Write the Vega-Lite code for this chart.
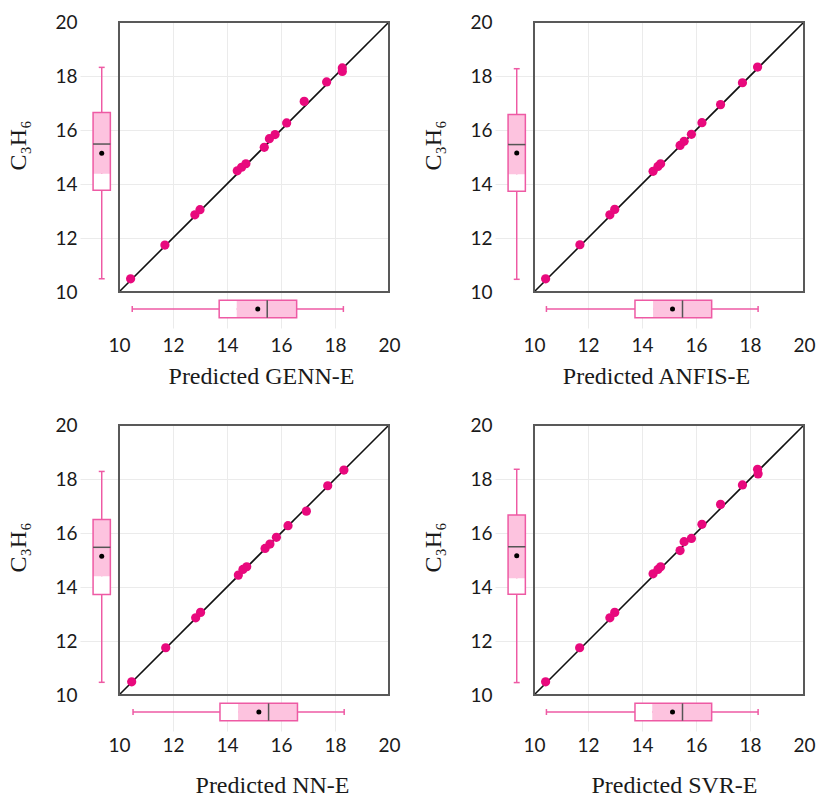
{
  "$schema": "https://vega.github.io/schema/vega-lite/v6.json",
  "background": "white",
  "padding": {"left": 6, "top": 13, "right": 0, "bottom": 0},
  "columns": 2,
  "spacing": {"row": 28, "column": 20},
  "datasets": {
    "points": [
      {"model": "GENN-E", "predicted": 10.43, "actual": 10.49},
      {"model": "GENN-E", "predicted": 11.70, "actual": 11.74},
      {"model": "GENN-E", "predicted": 12.81, "actual": 12.86},
      {"model": "GENN-E", "predicted": 13.00, "actual": 13.05},
      {"model": "GENN-E", "predicted": 14.38, "actual": 14.49},
      {"model": "GENN-E", "predicted": 14.54, "actual": 14.62},
      {"model": "GENN-E", "predicted": 14.70, "actual": 14.75},
      {"model": "GENN-E", "predicted": 15.38, "actual": 15.36},
      {"model": "GENN-E", "predicted": 15.57, "actual": 15.68},
      {"model": "GENN-E", "predicted": 15.78, "actual": 15.83},
      {"model": "GENN-E", "predicted": 16.21, "actual": 16.26},
      {"model": "GENN-E", "predicted": 16.86, "actual": 17.06},
      {"model": "GENN-E", "predicted": 17.69, "actual": 17.78},
      {"model": "GENN-E", "predicted": 18.27, "actual": 18.30},
      {"model": "GENN-E", "predicted": 18.27, "actual": 18.17},
      {"model": "ANFIS-E", "predicted": 10.43, "actual": 10.49},
      {"model": "ANFIS-E", "predicted": 11.70, "actual": 11.75},
      {"model": "ANFIS-E", "predicted": 12.81, "actual": 12.86},
      {"model": "ANFIS-E", "predicted": 12.99, "actual": 13.06},
      {"model": "ANFIS-E", "predicted": 14.41, "actual": 14.47},
      {"model": "ANFIS-E", "predicted": 14.59, "actual": 14.65},
      {"model": "ANFIS-E", "predicted": 14.69, "actual": 14.75},
      {"model": "ANFIS-E", "predicted": 15.41, "actual": 15.43},
      {"model": "ANFIS-E", "predicted": 15.56, "actual": 15.58},
      {"model": "ANFIS-E", "predicted": 15.83, "actual": 15.84},
      {"model": "ANFIS-E", "predicted": 16.22, "actual": 16.27},
      {"model": "ANFIS-E", "predicted": 16.91, "actual": 16.94},
      {"model": "ANFIS-E", "predicted": 17.72, "actual": 17.75},
      {"model": "ANFIS-E", "predicted": 18.28, "actual": 18.33},
      {"model": "NN-E", "predicted": 10.47, "actual": 10.49},
      {"model": "NN-E", "predicted": 11.73, "actual": 11.75},
      {"model": "NN-E", "predicted": 12.84, "actual": 12.86},
      {"model": "NN-E", "predicted": 13.02, "actual": 13.06},
      {"model": "NN-E", "predicted": 14.42, "actual": 14.44},
      {"model": "NN-E", "predicted": 14.59, "actual": 14.65},
      {"model": "NN-E", "predicted": 14.73, "actual": 14.75},
      {"model": "NN-E", "predicted": 15.41, "actual": 15.43},
      {"model": "NN-E", "predicted": 15.59, "actual": 15.59},
      {"model": "NN-E", "predicted": 15.83, "actual": 15.84},
      {"model": "NN-E", "predicted": 16.26, "actual": 16.27},
      {"model": "NN-E", "predicted": 16.94, "actual": 16.81},
      {"model": "NN-E", "predicted": 17.73, "actual": 17.75},
      {"model": "NN-E", "predicted": 18.33, "actual": 18.33},
      {"model": "SVR-E", "predicted": 10.43, "actual": 10.49},
      {"model": "SVR-E", "predicted": 11.69, "actual": 11.75},
      {"model": "SVR-E", "predicted": 12.81, "actual": 12.86},
      {"model": "SVR-E", "predicted": 12.99, "actual": 13.06},
      {"model": "SVR-E", "predicted": 14.41, "actual": 14.49},
      {"model": "SVR-E", "predicted": 14.59, "actual": 14.65},
      {"model": "SVR-E", "predicted": 14.69, "actual": 14.75},
      {"model": "SVR-E", "predicted": 15.41, "actual": 15.35},
      {"model": "SVR-E", "predicted": 15.56, "actual": 15.68},
      {"model": "SVR-E", "predicted": 15.83, "actual": 15.80},
      {"model": "SVR-E", "predicted": 16.22, "actual": 16.32},
      {"model": "SVR-E", "predicted": 16.91, "actual": 17.06},
      {"model": "SVR-E", "predicted": 17.72, "actual": 17.78},
      {"model": "SVR-E", "predicted": 18.28, "actual": 18.36},
      {"model": "SVR-E", "predicted": 18.30, "actual": 18.19}
    ],
    "boxes": [
      {"model": "GENN-E", "axis": "x", "lo": 10.49, "q1": 13.71, "split": 14.36, "med": 15.49, "q3": 16.58, "hi": 18.31, "mean": 15.14},
      {"model": "GENN-E", "axis": "y", "lo": 10.49, "q1": 13.77, "split": 14.38, "med": 15.48, "q3": 16.65, "hi": 18.32, "mean": 15.14},
      {"model": "ANFIS-E", "axis": "x", "lo": 10.46, "q1": 13.74, "split": 14.41, "med": 15.50, "q3": 16.58, "hi": 18.30, "mean": 15.13},
      {"model": "ANFIS-E", "axis": "y", "lo": 10.47, "q1": 13.73, "split": 14.36, "med": 15.46, "q3": 16.57, "hi": 18.27, "mean": 15.15},
      {"model": "NN-E", "axis": "x", "lo": 10.52, "q1": 13.74, "split": 14.41, "med": 15.54, "q3": 16.61, "hi": 18.34, "mean": 15.18},
      {"model": "NN-E", "axis": "y", "lo": 10.47, "q1": 13.72, "split": 14.40, "med": 15.47, "q3": 16.50, "hi": 18.28, "mean": 15.14},
      {"model": "SVR-E", "axis": "x", "lo": 10.46, "q1": 13.74, "split": 14.38, "med": 15.50, "q3": 16.58, "hi": 18.30, "mean": 15.13},
      {"model": "SVR-E", "axis": "y", "lo": 10.46, "q1": 13.73, "split": 14.32, "med": 15.49, "q3": 16.67, "hi": 18.36, "mean": 15.16}
    ]
  },
  "config": {
    "view": {"stroke": null},
    "axis": {
      "domain": false, "ticks": false, "labelFlush": false,
      "labelFont": "Lato", "labelFontSize": 19, "labelColor": "#1a1a1a",
      "titleFont": "Liberation Serif", "titleFontSize": 24, "titleFontWeight": "normal", "titleColor": "#1a1a1a",
      "gridWidth": 1
    }
  },
  "concat": [
    {
      "width": 309, "height": 306,
      "layer": [
        {"data": {"values": [{}]}, "mark": {"type": "rule", "color": "#111111", "strokeWidth": 1.6},
         "encoding": {
           "x": {"datum": 10, "type": "quantitative", "scale": {"domain": [8.5556, 20], "nice": false, "zero": false},
                 "axis": {"title": "Predicted GENN-E", "values": [10, 12, 14, 16, 18, 20], "grid": true, "gridColor": {"condition": {"test": "datum.value <= 10 || datum.value >= 20", "value": "transparent"}, "value": "#ebebeb"}, "labelPadding": 8, "titlePadding": 9, "titleX": 181}},
           "x2": {"datum": 20},
           "y": {"datum": 10, "type": "quantitative", "scale": {"domain": [8.6667, 20], "nice": false, "zero": false},
                 "axis": {"title": "C₃H₆", "values": [10, 12, 14, 16, 18, 20], "grid": true, "gridColor": {"condition": {"test": "datum.value <= 10 || datum.value >= 20", "value": "transparent"}, "value": "#ebebeb"}, "labelPadding": 3, "titlePadding": 24, "titleY": 123}},
           "y2": {"datum": 20}}},
        {"data": {"name": "points"}, "transform": [{"filter": "datum.model == 'GENN-E'"}], "mark": {"type": "circle", "size": 85, "color": "#E8097D", "opacity": 1},
         "encoding": {"x": {"field": "predicted", "type": "quantitative"}, "y": {"field": "actual", "type": "quantitative"}}},
        {"data": {"name": "boxes"}, "transform": [{"filter": "datum.model == 'GENN-E' && datum.axis == 'x'"}], "mark": {"type": "rule", "color": "#EE5AA4", "strokeWidth": 1.5},
         "encoding": {"x": {"field": "lo", "type": "quantitative"}, "x2": {"field": "hi"}, "y": {"datum": 9.37}}},
        {"data": {"name": "boxes"}, "transform": [{"filter": "datum.model == 'GENN-E' && datum.axis == 'x'"}, {"fold": ["lo", "hi"]}], "mark": {"type": "rule", "color": "#EE5AA4", "strokeWidth": 1.5},
         "encoding": {"x": {"field": "value", "type": "quantitative"}, "y": {"datum": 9.26}, "y2": {"datum": 9.48}}},
        {"data": {"name": "boxes"}, "transform": [{"filter": "datum.model == 'GENN-E' && datum.axis == 'x'"}], "mark": {"type": "rect", "fill": "#ffffff"},
         "encoding": {"x": {"field": "q1", "type": "quantitative"}, "x2": {"field": "split"}, "y": {"datum": 9.05}, "y2": {"datum": 9.69}}},
        {"data": {"name": "boxes"}, "transform": [{"filter": "datum.model == 'GENN-E' && datum.axis == 'x'"}], "mark": {"type": "rect", "fill": "#FDC3DF"},
         "encoding": {"x": {"field": "split", "type": "quantitative"}, "x2": {"field": "q3"}, "y": {"datum": 9.05}, "y2": {"datum": 9.69}}},
        {"data": {"name": "boxes"}, "transform": [{"filter": "datum.model == 'GENN-E' && datum.axis == 'x'"}], "mark": {"type": "rect", "fill": "transparent", "stroke": "#EE5AA4", "strokeWidth": 1.5},
         "encoding": {"x": {"field": "q1", "type": "quantitative"}, "x2": {"field": "q3"}, "y": {"datum": 9.05}, "y2": {"datum": 9.69}}},
        {"data": {"name": "boxes"}, "transform": [{"filter": "datum.model == 'GENN-E' && datum.axis == 'x'"}], "mark": {"type": "rule", "color": "#555555", "strokeWidth": 1.5},
         "encoding": {"x": {"field": "med", "type": "quantitative"}, "y": {"datum": 9.05}, "y2": {"datum": 9.69}}},
        {"data": {"name": "boxes"}, "transform": [{"filter": "datum.model == 'GENN-E' && datum.axis == 'x'"}], "mark": {"type": "circle", "size": 25, "color": "#000000", "opacity": 1},
         "encoding": {"x": {"field": "mean", "type": "quantitative"}, "y": {"datum": 9.37}}},
        {"data": {"name": "boxes"}, "transform": [{"filter": "datum.model == 'GENN-E' && datum.axis == 'y'"}], "mark": {"type": "rule", "color": "#EE5AA4", "strokeWidth": 1.5},
         "encoding": {"y": {"field": "lo", "type": "quantitative"}, "y2": {"field": "hi"}, "x": {"datum": 9.36}}},
        {"data": {"name": "boxes"}, "transform": [{"filter": "datum.model == 'GENN-E' && datum.axis == 'y'"}, {"fold": ["lo", "hi"]}], "mark": {"type": "rule", "color": "#EE5AA4", "strokeWidth": 1.5},
         "encoding": {"y": {"field": "value", "type": "quantitative"}, "x": {"datum": 9.25}, "x2": {"datum": 9.47}}},
        {"data": {"name": "boxes"}, "transform": [{"filter": "datum.model == 'GENN-E' && datum.axis == 'y'"}], "mark": {"type": "rect", "fill": "#ffffff"},
         "encoding": {"y": {"field": "q1", "type": "quantitative"}, "y2": {"field": "split"}, "x": {"datum": 9.04}, "x2": {"datum": 9.68}}},
        {"data": {"name": "boxes"}, "transform": [{"filter": "datum.model == 'GENN-E' && datum.axis == 'y'"}], "mark": {"type": "rect", "fill": "#FDC3DF"},
         "encoding": {"y": {"field": "split", "type": "quantitative"}, "y2": {"field": "q3"}, "x": {"datum": 9.04}, "x2": {"datum": 9.68}}},
        {"data": {"name": "boxes"}, "transform": [{"filter": "datum.model == 'GENN-E' && datum.axis == 'y'"}], "mark": {"type": "rect", "fill": "transparent", "stroke": "#EE5AA4", "strokeWidth": 1.5},
         "encoding": {"y": {"field": "q1", "type": "quantitative"}, "y2": {"field": "q3"}, "x": {"datum": 9.04}, "x2": {"datum": 9.68}}},
        {"data": {"name": "boxes"}, "transform": [{"filter": "datum.model == 'GENN-E' && datum.axis == 'y'"}], "mark": {"type": "rule", "color": "#555555", "strokeWidth": 1.5},
         "encoding": {"y": {"field": "med", "type": "quantitative"}, "x": {"datum": 9.04}, "x2": {"datum": 9.68}}},
        {"data": {"name": "boxes"}, "transform": [{"filter": "datum.model == 'GENN-E' && datum.axis == 'y'"}], "mark": {"type": "circle", "size": 25, "color": "#000000", "opacity": 1},
         "encoding": {"y": {"field": "mean", "type": "quantitative"}, "x": {"datum": 9.36}}},
        {"data": {"values": [{}]}, "mark": {"type": "rect", "fill": "transparent", "stroke": "#595959", "strokeWidth": 2},
         "encoding": {"x": {"datum": 10}, "x2": {"datum": 20}, "y": {"datum": 10}, "y2": {"datum": 20}}}
      ]
    },
    {
      "width": 309, "height": 306,
      "layer": [
        {"data": {"values": [{}]}, "mark": {"type": "rule", "color": "#111111", "strokeWidth": 1.6},
         "encoding": {
           "x": {"datum": 10, "type": "quantitative", "scale": {"domain": [8.5556, 20], "nice": false, "zero": false},
                 "axis": {"title": "Predicted ANFIS-E", "values": [10, 12, 14, 16, 18, 20], "grid": true, "gridColor": {"condition": {"test": "datum.value <= 10 || datum.value >= 20", "value": "transparent"}, "value": "#ebebeb"}, "labelPadding": 8, "titlePadding": 9, "titleX": 161}},
           "x2": {"datum": 20},
           "y": {"datum": 10, "type": "quantitative", "scale": {"domain": [8.6667, 20], "nice": false, "zero": false},
                 "axis": {"title": "C₃H₆", "values": [10, 12, 14, 16, 18, 20], "grid": true, "gridColor": {"condition": {"test": "datum.value <= 10 || datum.value >= 20", "value": "transparent"}, "value": "#ebebeb"}, "labelPadding": 3, "titlePadding": 24, "titleY": 123}},
           "y2": {"datum": 20}}},
        {"data": {"name": "points"}, "transform": [{"filter": "datum.model == 'ANFIS-E'"}], "mark": {"type": "circle", "size": 85, "color": "#E8097D", "opacity": 1},
         "encoding": {"x": {"field": "predicted", "type": "quantitative"}, "y": {"field": "actual", "type": "quantitative"}}},
        {"data": {"name": "boxes"}, "transform": [{"filter": "datum.model == 'ANFIS-E' && datum.axis == 'x'"}], "mark": {"type": "rule", "color": "#EE5AA4", "strokeWidth": 1.5},
         "encoding": {"x": {"field": "lo", "type": "quantitative"}, "x2": {"field": "hi"}, "y": {"datum": 9.37}}},
        {"data": {"name": "boxes"}, "transform": [{"filter": "datum.model == 'ANFIS-E' && datum.axis == 'x'"}, {"fold": ["lo", "hi"]}], "mark": {"type": "rule", "color": "#EE5AA4", "strokeWidth": 1.5},
         "encoding": {"x": {"field": "value", "type": "quantitative"}, "y": {"datum": 9.26}, "y2": {"datum": 9.48}}},
        {"data": {"name": "boxes"}, "transform": [{"filter": "datum.model == 'ANFIS-E' && datum.axis == 'x'"}], "mark": {"type": "rect", "fill": "#ffffff"},
         "encoding": {"x": {"field": "q1", "type": "quantitative"}, "x2": {"field": "split"}, "y": {"datum": 9.05}, "y2": {"datum": 9.69}}},
        {"data": {"name": "boxes"}, "transform": [{"filter": "datum.model == 'ANFIS-E' && datum.axis == 'x'"}], "mark": {"type": "rect", "fill": "#FDC3DF"},
         "encoding": {"x": {"field": "split", "type": "quantitative"}, "x2": {"field": "q3"}, "y": {"datum": 9.05}, "y2": {"datum": 9.69}}},
        {"data": {"name": "boxes"}, "transform": [{"filter": "datum.model == 'ANFIS-E' && datum.axis == 'x'"}], "mark": {"type": "rect", "fill": "transparent", "stroke": "#EE5AA4", "strokeWidth": 1.5},
         "encoding": {"x": {"field": "q1", "type": "quantitative"}, "x2": {"field": "q3"}, "y": {"datum": 9.05}, "y2": {"datum": 9.69}}},
        {"data": {"name": "boxes"}, "transform": [{"filter": "datum.model == 'ANFIS-E' && datum.axis == 'x'"}], "mark": {"type": "rule", "color": "#555555", "strokeWidth": 1.5},
         "encoding": {"x": {"field": "med", "type": "quantitative"}, "y": {"datum": 9.05}, "y2": {"datum": 9.69}}},
        {"data": {"name": "boxes"}, "transform": [{"filter": "datum.model == 'ANFIS-E' && datum.axis == 'x'"}], "mark": {"type": "circle", "size": 25, "color": "#000000", "opacity": 1},
         "encoding": {"x": {"field": "mean", "type": "quantitative"}, "y": {"datum": 9.37}}},
        {"data": {"name": "boxes"}, "transform": [{"filter": "datum.model == 'ANFIS-E' && datum.axis == 'y'"}], "mark": {"type": "rule", "color": "#EE5AA4", "strokeWidth": 1.5},
         "encoding": {"y": {"field": "lo", "type": "quantitative"}, "y2": {"field": "hi"}, "x": {"datum": 9.36}}},
        {"data": {"name": "boxes"}, "transform": [{"filter": "datum.model == 'ANFIS-E' && datum.axis == 'y'"}, {"fold": ["lo", "hi"]}], "mark": {"type": "rule", "color": "#EE5AA4", "strokeWidth": 1.5},
         "encoding": {"y": {"field": "value", "type": "quantitative"}, "x": {"datum": 9.25}, "x2": {"datum": 9.47}}},
        {"data": {"name": "boxes"}, "transform": [{"filter": "datum.model == 'ANFIS-E' && datum.axis == 'y'"}], "mark": {"type": "rect", "fill": "#ffffff"},
         "encoding": {"y": {"field": "q1", "type": "quantitative"}, "y2": {"field": "split"}, "x": {"datum": 9.04}, "x2": {"datum": 9.68}}},
        {"data": {"name": "boxes"}, "transform": [{"filter": "datum.model == 'ANFIS-E' && datum.axis == 'y'"}], "mark": {"type": "rect", "fill": "#FDC3DF"},
         "encoding": {"y": {"field": "split", "type": "quantitative"}, "y2": {"field": "q3"}, "x": {"datum": 9.04}, "x2": {"datum": 9.68}}},
        {"data": {"name": "boxes"}, "transform": [{"filter": "datum.model == 'ANFIS-E' && datum.axis == 'y'"}], "mark": {"type": "rect", "fill": "transparent", "stroke": "#EE5AA4", "strokeWidth": 1.5},
         "encoding": {"y": {"field": "q1", "type": "quantitative"}, "y2": {"field": "q3"}, "x": {"datum": 9.04}, "x2": {"datum": 9.68}}},
        {"data": {"name": "boxes"}, "transform": [{"filter": "datum.model == 'ANFIS-E' && datum.axis == 'y'"}], "mark": {"type": "rule", "color": "#555555", "strokeWidth": 1.5},
         "encoding": {"y": {"field": "med", "type": "quantitative"}, "x": {"datum": 9.04}, "x2": {"datum": 9.68}}},
        {"data": {"name": "boxes"}, "transform": [{"filter": "datum.model == 'ANFIS-E' && datum.axis == 'y'"}], "mark": {"type": "circle", "size": 25, "color": "#000000", "opacity": 1},
         "encoding": {"y": {"field": "mean", "type": "quantitative"}, "x": {"datum": 9.36}}},
        {"data": {"values": [{}]}, "mark": {"type": "rect", "fill": "transparent", "stroke": "#595959", "strokeWidth": 2},
         "encoding": {"x": {"datum": 10}, "x2": {"datum": 20}, "y": {"datum": 10}, "y2": {"datum": 20}}}
      ]
    },
    {
      "width": 309, "height": 306,
      "layer": [
        {"data": {"values": [{}]}, "mark": {"type": "rule", "color": "#111111", "strokeWidth": 1.6},
         "encoding": {
           "x": {"datum": 10, "type": "quantitative", "scale": {"domain": [8.5556, 20], "nice": false, "zero": false},
                 "axis": {"title": "Predicted NN-E", "values": [10, 12, 14, 16, 18, 20], "grid": true, "gridColor": {"condition": {"test": "datum.value <= 10 || datum.value >= 20", "value": "transparent"}, "value": "#ebebeb"}, "labelPadding": 5, "titlePadding": 18, "titleX": 192}},
           "x2": {"datum": 20},
           "y": {"datum": 10, "type": "quantitative", "scale": {"domain": [8.6667, 20], "nice": false, "zero": false},
                 "axis": {"title": "C₃H₆", "values": [10, 12, 14, 16, 18, 20], "grid": true, "gridColor": {"condition": {"test": "datum.value <= 10 || datum.value >= 20", "value": "transparent"}, "value": "#ebebeb"}, "labelPadding": 3, "titlePadding": 24, "titleY": 122}},
           "y2": {"datum": 20}}},
        {"data": {"name": "points"}, "transform": [{"filter": "datum.model == 'NN-E'"}], "mark": {"type": "circle", "size": 85, "color": "#E8097D", "opacity": 1},
         "encoding": {"x": {"field": "predicted", "type": "quantitative"}, "y": {"field": "actual", "type": "quantitative"}}},
        {"data": {"name": "boxes"}, "transform": [{"filter": "datum.model == 'NN-E' && datum.axis == 'x'"}], "mark": {"type": "rule", "color": "#EE5AA4", "strokeWidth": 1.5},
         "encoding": {"x": {"field": "lo", "type": "quantitative"}, "x2": {"field": "hi"}, "y": {"datum": 9.37}}},
        {"data": {"name": "boxes"}, "transform": [{"filter": "datum.model == 'NN-E' && datum.axis == 'x'"}, {"fold": ["lo", "hi"]}], "mark": {"type": "rule", "color": "#EE5AA4", "strokeWidth": 1.5},
         "encoding": {"x": {"field": "value", "type": "quantitative"}, "y": {"datum": 9.26}, "y2": {"datum": 9.48}}},
        {"data": {"name": "boxes"}, "transform": [{"filter": "datum.model == 'NN-E' && datum.axis == 'x'"}], "mark": {"type": "rect", "fill": "#ffffff"},
         "encoding": {"x": {"field": "q1", "type": "quantitative"}, "x2": {"field": "split"}, "y": {"datum": 9.05}, "y2": {"datum": 9.69}}},
        {"data": {"name": "boxes"}, "transform": [{"filter": "datum.model == 'NN-E' && datum.axis == 'x'"}], "mark": {"type": "rect", "fill": "#FDC3DF"},
         "encoding": {"x": {"field": "split", "type": "quantitative"}, "x2": {"field": "q3"}, "y": {"datum": 9.05}, "y2": {"datum": 9.69}}},
        {"data": {"name": "boxes"}, "transform": [{"filter": "datum.model == 'NN-E' && datum.axis == 'x'"}], "mark": {"type": "rect", "fill": "transparent", "stroke": "#EE5AA4", "strokeWidth": 1.5},
         "encoding": {"x": {"field": "q1", "type": "quantitative"}, "x2": {"field": "q3"}, "y": {"datum": 9.05}, "y2": {"datum": 9.69}}},
        {"data": {"name": "boxes"}, "transform": [{"filter": "datum.model == 'NN-E' && datum.axis == 'x'"}], "mark": {"type": "rule", "color": "#555555", "strokeWidth": 1.5},
         "encoding": {"x": {"field": "med", "type": "quantitative"}, "y": {"datum": 9.05}, "y2": {"datum": 9.69}}},
        {"data": {"name": "boxes"}, "transform": [{"filter": "datum.model == 'NN-E' && datum.axis == 'x'"}], "mark": {"type": "circle", "size": 25, "color": "#000000", "opacity": 1},
         "encoding": {"x": {"field": "mean", "type": "quantitative"}, "y": {"datum": 9.37}}},
        {"data": {"name": "boxes"}, "transform": [{"filter": "datum.model == 'NN-E' && datum.axis == 'y'"}], "mark": {"type": "rule", "color": "#EE5AA4", "strokeWidth": 1.5},
         "encoding": {"y": {"field": "lo", "type": "quantitative"}, "y2": {"field": "hi"}, "x": {"datum": 9.36}}},
        {"data": {"name": "boxes"}, "transform": [{"filter": "datum.model == 'NN-E' && datum.axis == 'y'"}, {"fold": ["lo", "hi"]}], "mark": {"type": "rule", "color": "#EE5AA4", "strokeWidth": 1.5},
         "encoding": {"y": {"field": "value", "type": "quantitative"}, "x": {"datum": 9.25}, "x2": {"datum": 9.47}}},
        {"data": {"name": "boxes"}, "transform": [{"filter": "datum.model == 'NN-E' && datum.axis == 'y'"}], "mark": {"type": "rect", "fill": "#ffffff"},
         "encoding": {"y": {"field": "q1", "type": "quantitative"}, "y2": {"field": "split"}, "x": {"datum": 9.04}, "x2": {"datum": 9.68}}},
        {"data": {"name": "boxes"}, "transform": [{"filter": "datum.model == 'NN-E' && datum.axis == 'y'"}], "mark": {"type": "rect", "fill": "#FDC3DF"},
         "encoding": {"y": {"field": "split", "type": "quantitative"}, "y2": {"field": "q3"}, "x": {"datum": 9.04}, "x2": {"datum": 9.68}}},
        {"data": {"name": "boxes"}, "transform": [{"filter": "datum.model == 'NN-E' && datum.axis == 'y'"}], "mark": {"type": "rect", "fill": "transparent", "stroke": "#EE5AA4", "strokeWidth": 1.5},
         "encoding": {"y": {"field": "q1", "type": "quantitative"}, "y2": {"field": "q3"}, "x": {"datum": 9.04}, "x2": {"datum": 9.68}}},
        {"data": {"name": "boxes"}, "transform": [{"filter": "datum.model == 'NN-E' && datum.axis == 'y'"}], "mark": {"type": "rule", "color": "#555555", "strokeWidth": 1.5},
         "encoding": {"y": {"field": "med", "type": "quantitative"}, "x": {"datum": 9.04}, "x2": {"datum": 9.68}}},
        {"data": {"name": "boxes"}, "transform": [{"filter": "datum.model == 'NN-E' && datum.axis == 'y'"}], "mark": {"type": "circle", "size": 25, "color": "#000000", "opacity": 1},
         "encoding": {"y": {"field": "mean", "type": "quantitative"}, "x": {"datum": 9.36}}},
        {"data": {"values": [{}]}, "mark": {"type": "rect", "fill": "transparent", "stroke": "#595959", "strokeWidth": 2},
         "encoding": {"x": {"datum": 10}, "x2": {"datum": 20}, "y": {"datum": 10}, "y2": {"datum": 20}}}
      ]
    },
    {
      "width": 309, "height": 306,
      "layer": [
        {"data": {"values": [{}]}, "mark": {"type": "rule", "color": "#111111", "strokeWidth": 1.6},
         "encoding": {
           "x": {"datum": 10, "type": "quantitative", "scale": {"domain": [8.5556, 20], "nice": false, "zero": false},
                 "axis": {"title": "Predicted SVR-E", "values": [10, 12, 14, 16, 18, 20], "grid": true, "gridColor": {"condition": {"test": "datum.value <= 10 || datum.value >= 20", "value": "transparent"}, "value": "#ebebeb"}, "labelPadding": 5, "titlePadding": 18, "titleX": 179}},
           "x2": {"datum": 20},
           "y": {"datum": 10, "type": "quantitative", "scale": {"domain": [8.6667, 20], "nice": false, "zero": false},
                 "axis": {"title": "C₃H₆", "values": [10, 12, 14, 16, 18, 20], "grid": true, "gridColor": {"condition": {"test": "datum.value <= 10 || datum.value >= 20", "value": "transparent"}, "value": "#ebebeb"}, "labelPadding": 3, "titlePadding": 24, "titleY": 122}},
           "y2": {"datum": 20}}},
        {"data": {"name": "points"}, "transform": [{"filter": "datum.model == 'SVR-E'"}], "mark": {"type": "circle", "size": 85, "color": "#E8097D", "opacity": 1},
         "encoding": {"x": {"field": "predicted", "type": "quantitative"}, "y": {"field": "actual", "type": "quantitative"}}},
        {"data": {"name": "boxes"}, "transform": [{"filter": "datum.model == 'SVR-E' && datum.axis == 'x'"}], "mark": {"type": "rule", "color": "#EE5AA4", "strokeWidth": 1.5},
         "encoding": {"x": {"field": "lo", "type": "quantitative"}, "x2": {"field": "hi"}, "y": {"datum": 9.37}}},
        {"data": {"name": "boxes"}, "transform": [{"filter": "datum.model == 'SVR-E' && datum.axis == 'x'"}, {"fold": ["lo", "hi"]}], "mark": {"type": "rule", "color": "#EE5AA4", "strokeWidth": 1.5},
         "encoding": {"x": {"field": "value", "type": "quantitative"}, "y": {"datum": 9.26}, "y2": {"datum": 9.48}}},
        {"data": {"name": "boxes"}, "transform": [{"filter": "datum.model == 'SVR-E' && datum.axis == 'x'"}], "mark": {"type": "rect", "fill": "#ffffff"},
         "encoding": {"x": {"field": "q1", "type": "quantitative"}, "x2": {"field": "split"}, "y": {"datum": 9.05}, "y2": {"datum": 9.69}}},
        {"data": {"name": "boxes"}, "transform": [{"filter": "datum.model == 'SVR-E' && datum.axis == 'x'"}], "mark": {"type": "rect", "fill": "#FDC3DF"},
         "encoding": {"x": {"field": "split", "type": "quantitative"}, "x2": {"field": "q3"}, "y": {"datum": 9.05}, "y2": {"datum": 9.69}}},
        {"data": {"name": "boxes"}, "transform": [{"filter": "datum.model == 'SVR-E' && datum.axis == 'x'"}], "mark": {"type": "rect", "fill": "transparent", "stroke": "#EE5AA4", "strokeWidth": 1.5},
         "encoding": {"x": {"field": "q1", "type": "quantitative"}, "x2": {"field": "q3"}, "y": {"datum": 9.05}, "y2": {"datum": 9.69}}},
        {"data": {"name": "boxes"}, "transform": [{"filter": "datum.model == 'SVR-E' && datum.axis == 'x'"}], "mark": {"type": "rule", "color": "#555555", "strokeWidth": 1.5},
         "encoding": {"x": {"field": "med", "type": "quantitative"}, "y": {"datum": 9.05}, "y2": {"datum": 9.69}}},
        {"data": {"name": "boxes"}, "transform": [{"filter": "datum.model == 'SVR-E' && datum.axis == 'x'"}], "mark": {"type": "circle", "size": 25, "color": "#000000", "opacity": 1},
         "encoding": {"x": {"field": "mean", "type": "quantitative"}, "y": {"datum": 9.37}}},
        {"data": {"name": "boxes"}, "transform": [{"filter": "datum.model == 'SVR-E' && datum.axis == 'y'"}], "mark": {"type": "rule", "color": "#EE5AA4", "strokeWidth": 1.5},
         "encoding": {"y": {"field": "lo", "type": "quantitative"}, "y2": {"field": "hi"}, "x": {"datum": 9.36}}},
        {"data": {"name": "boxes"}, "transform": [{"filter": "datum.model == 'SVR-E' && datum.axis == 'y'"}, {"fold": ["lo", "hi"]}], "mark": {"type": "rule", "color": "#EE5AA4", "strokeWidth": 1.5},
         "encoding": {"y": {"field": "value", "type": "quantitative"}, "x": {"datum": 9.25}, "x2": {"datum": 9.47}}},
        {"data": {"name": "boxes"}, "transform": [{"filter": "datum.model == 'SVR-E' && datum.axis == 'y'"}], "mark": {"type": "rect", "fill": "#ffffff"},
         "encoding": {"y": {"field": "q1", "type": "quantitative"}, "y2": {"field": "split"}, "x": {"datum": 9.04}, "x2": {"datum": 9.68}}},
        {"data": {"name": "boxes"}, "transform": [{"filter": "datum.model == 'SVR-E' && datum.axis == 'y'"}], "mark": {"type": "rect", "fill": "#FDC3DF"},
         "encoding": {"y": {"field": "split", "type": "quantitative"}, "y2": {"field": "q3"}, "x": {"datum": 9.04}, "x2": {"datum": 9.68}}},
        {"data": {"name": "boxes"}, "transform": [{"filter": "datum.model == 'SVR-E' && datum.axis == 'y'"}], "mark": {"type": "rect", "fill": "transparent", "stroke": "#EE5AA4", "strokeWidth": 1.5},
         "encoding": {"y": {"field": "q1", "type": "quantitative"}, "y2": {"field": "q3"}, "x": {"datum": 9.04}, "x2": {"datum": 9.68}}},
        {"data": {"name": "boxes"}, "transform": [{"filter": "datum.model == 'SVR-E' && datum.axis == 'y'"}], "mark": {"type": "rule", "color": "#555555", "strokeWidth": 1.5},
         "encoding": {"y": {"field": "med", "type": "quantitative"}, "x": {"datum": 9.04}, "x2": {"datum": 9.68}}},
        {"data": {"name": "boxes"}, "transform": [{"filter": "datum.model == 'SVR-E' && datum.axis == 'y'"}], "mark": {"type": "circle", "size": 25, "color": "#000000", "opacity": 1},
         "encoding": {"y": {"field": "mean", "type": "quantitative"}, "x": {"datum": 9.36}}},
        {"data": {"values": [{}]}, "mark": {"type": "rect", "fill": "transparent", "stroke": "#595959", "strokeWidth": 2},
         "encoding": {"x": {"datum": 10}, "x2": {"datum": 20}, "y": {"datum": 10}, "y2": {"datum": 20}}}
      ]
    }
  ]
}
